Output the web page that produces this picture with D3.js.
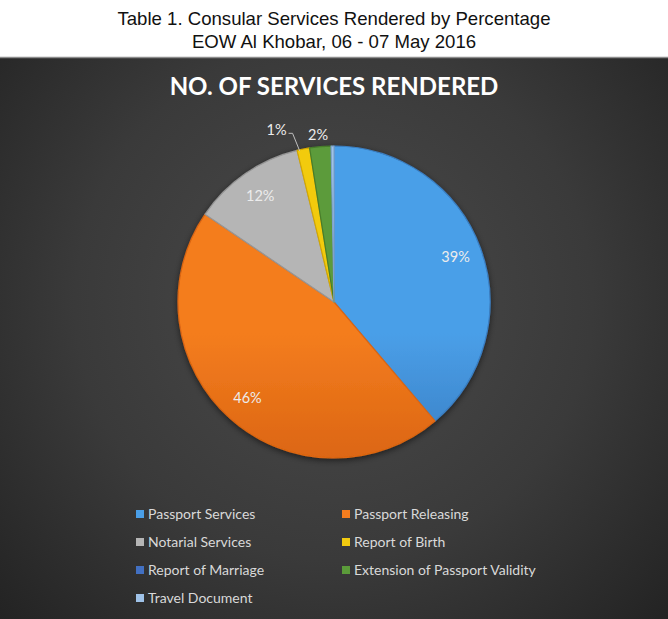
<!DOCTYPE html>
<html>
<head>
<meta charset="utf-8">
<script src="https://cdn.jsdelivr.net/npm/d3@7"></script>
<style>
  body { margin: 0; background: #fff; }
  svg { display: block; }
</style>
</head>
<body>
<svg width="668" height="619"></svg>
<script>
const categories = ["Passport Services", "Passport Releasing", "Notarial Services", "Report of Birth",
                    "Report of Marriage", "Extension of Passport Validity", "Travel Document"];
const counts = [388, 457, 117, 13, 0, 22, 3];
const colors = ["#4a9fe8", "#f47d1f", "#b5b5b5", "#f2cb10", "#4270c2", "#5b9b3a", "#9fc2e8"];
const darker = ["#3a7fc4", "#dc6612", "#969696", "#d4a800", "#33589c", "#477d2c", "#7fa3cc"];

const svg = d3.select("svg"),
      width = +svg.attr("width"),
      height = +svg.attr("height");

// titre au-dessus du graphique
const head = svg.append("g").attr("font-family", "Liberation Sans, Arial, sans-serif")
    .attr("font-size", 18.6).attr("fill", "#111").attr("text-anchor", "middle");
head.append("text").attr("x", width / 2).attr("y", 25).text("Table 1. Consular Services Rendered by Percentage");
head.append("text").attr("x", width / 2).attr("y", 48).text("EOW Al Khobar, 06 - 07 May 2016");

const chartTop = 57;
const cx = 334, cy = 302, r = 156;

const defs = svg.append("defs");
const bg = defs.append("radialGradient").attr("id", "bg")
    .attr("gradientUnits", "userSpaceOnUse")
    .attr("cx", cx).attr("cy", cy).attr("r", 470);
bg.append("stop").attr("offset", 0).attr("stop-color", "#4b4b4b");
bg.append("stop").attr("offset", 0.55).attr("stop-color", "#3a3a3a");
bg.append("stop").attr("offset", 1).attr("stop-color", "#222");

colors.forEach((c, i) => {
    const g = defs.append("linearGradient").attr("id", "g" + i)
        .attr("gradientUnits", "userSpaceOnUse")
        .attr("x1", 0).attr("y1", -r).attr("x2", 0).attr("y2", r);
    g.append("stop").attr("offset", 0).attr("stop-color", c);
    g.append("stop").attr("offset", 0.6).attr("stop-color", c);
    g.append("stop").attr("offset", 1).attr("stop-color", darker[i]);
});

const shadow = defs.append("filter").attr("id", "shadow")
    .attr("x", "-20%").attr("y", "-20%").attr("width", "140%").attr("height", "140%");
shadow.append("feDropShadow").attr("dx", 0).attr("dy", 2).attr("stdDeviation", 3)
    .attr("flood-color", "#000").attr("flood-opacity", 0.55);

svg.append("rect").attr("x", 0).attr("y", chartTop).attr("width", width).attr("height", height - chartTop)
    .attr("fill", "url(#bg)");
svg.append("line").attr("x1", 0).attr("x2", width).attr("y1", chartTop + 0.5).attr("y2", chartTop + 0.5)
    .attr("stroke", "#8c8c8c").attr("stroke-width", 1.5);

svg.append("text").attr("x", cx).attr("y", 95)
    .attr("text-anchor", "middle").attr("fill", "#fff")
    .attr("font-family", "Lato, sans-serif").attr("font-weight", "bold").attr("font-size", 24)
    .text("NO. OF SERVICES RENDERED");

const data = categories.map((c, i) => ({ name: c, value: counts[i], i: i }));
const total = d3.sum(counts);

const pie = d3.pie().value(d => d.value).sort(null);
const arcs = pie(data);
const arc = d3.arc().innerRadius(0).outerRadius(r);

const g = svg.append("g").attr("transform", `translate(${cx},${cy})`);

g.append("g").attr("filter", "url(#shadow)")
    .selectAll("path")
    .data(arcs.filter(d => d.value > 0))
    .enter().append("path")
    .attr("d", arc)
    .attr("fill", d => `url(#g${d.data.i})`)
    .attr("stroke", d => darker[d.data.i])
    .attr("stroke-width", 1.2)
    .attr("stroke-linejoin", "round");

// étiquettes en pourcentage
const fmt = d => Math.round(d.value / total * 100) + "%";
const inner = d3.arc().innerRadius(r * 0.83).outerRadius(r * 0.83);
const labels = g.append("g").attr("font-family", "Lato, sans-serif").attr("font-size", 14.5)
    .attr("fill", "#ececec").attr("text-anchor", "middle");

const big = arcs.filter(d => d.value / total >= 0.05);
labels.selectAll("text.in").data(big).enter().append("text")
    .attr("class", "in")
    .attr("x", d => inner.centroid(d)[0])
    .attr("y", d => inner.centroid(d)[1])
    .attr("dy", "0.35em")
    .text(fmt);

// petites tranches : étiquettes dehors, décalées comme dans Excel
const nudge = { 3: [-24, -5], 5: [-1, 2] };
const small = arcs.filter(d => d.value / total >= 0.005 && d.value / total < 0.05);
small.forEach(d => {
    const a = (d.startAngle + d.endAngle) / 2;
    const n = nudge[d.data.i] || [0, 0];
    const lx = Math.sin(a) * (r + 14) + n[0],
          ly = -Math.cos(a) * (r + 14) + n[1];
    labels.append("text").attr("x", lx).attr("y", ly).attr("dy", "0.35em").text(fmt(d));
    if (n[0] < -20) {
        const ex = Math.sin(a) * (r - 2) - 4, ey = -Math.cos(a) * (r - 2);
        g.append("polyline")
            .attr("points", [[lx + 12, ly + 3], [lx + 16, ly + 3], [ex, ey]].map(p => p.join(",")).join(" "))
            .attr("fill", "none").attr("stroke", "#bfbfbf").attr("stroke-width", 1);
    }
});

// légende
const legend = svg.append("g").attr("font-family", "Lato, sans-serif").attr("font-size", 14).attr("fill", "#d9d9d9");
const item = legend.selectAll("g").data(data).enter().append("g")
    .attr("transform", (d, i) => `translate(${i % 2 ? 342 : 136},${514 + Math.floor(i / 2) * 28})`);
item.append("rect").attr("x", 0).attr("y", -4).attr("width", 8).attr("height", 8)
    .attr("fill", d => colors[d.i]);
item.append("text").attr("x", 12).attr("dy", "0.35em").text(d => d.name);
</script>
</body>
</html>
